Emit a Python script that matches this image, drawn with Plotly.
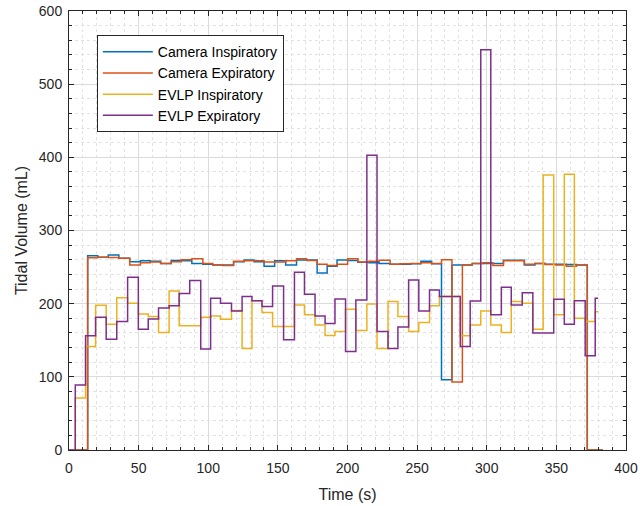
import plotly.graph_objects as go

# ---- Camera data (step start times, s) ----
cam_time = [0, 13.4, 20.6, 28.2, 35.8, 43.6, 51.3, 58.4, 65.8, 73.4, 80.6, 88.2, 96.1,
            103.2, 110.3, 118.2, 125.8, 132.9, 140.1, 147.7, 155.6, 163.4, 170.6, 178.2,
            185.4, 192.5, 200.1, 207.5, 215.4, 222.7, 230.6, 237.7, 245.4, 252.7, 260.4,
            267.5, 275.0, 282.5, 289.6, 297.2, 304.4, 312.0, 319.1, 327.0, 334.6, 342.0,
            349.6, 357.2, 364.4, 372.2]
cam_end = 383.5

cam_insp = [0, 265.5, 263.3, 266.4, 262, 257.4, 258.7, 258, 255, 259, 258.5, 255, 254,
            253, 253, 257.4, 259.6, 257.4, 251, 258.7, 253, 259.6, 259.6, 242, 251,
            259.6, 259, 256.5, 256, 255, 254, 254, 254.5, 258, 254.5, 96, 253, 253,
            255, 255, 255, 259.5, 259.5, 253, 255, 254, 254, 253.5, 253, 0]

cam_exp = [0, 262.8, 263.3, 263, 262, 253, 256, 257, 255, 257.4, 260, 261.5, 255,
           253, 252, 258, 258.7, 258.7, 257, 257, 258.7, 261.5, 259, 254, 252,
           254, 261.5, 257, 258, 259.5, 254, 254.5, 255, 256, 255, 260, 93, 253,
           255, 256, 252, 258.7, 258.7, 254, 255, 253.5, 253, 251, 253, 0]

# ---- EVLP data (step start times, s) ----
evlp_time = [0, 4.5, 11.9, 19.1, 26.7, 34.3, 42.1, 49.8, 56.9, 64.3, 71.9, 79.1, 86.7,
             94.6, 101.7, 108.8, 116.7, 124.3, 131.4, 138.6, 146.2, 154.1, 161.9, 169.1,
             176.7, 183.9, 191.0, 198.6, 206.0, 213.9, 221.2, 229.1, 236.2, 243.9, 251.2,
             258.9, 266.0, 273.5, 281.0, 288.1, 295.7, 302.9, 310.5, 317.6, 325.5, 333.1,
             340.5, 348.1, 355.7, 362.9, 370.7, 377.9]
evlp_end = 380.0

evlp_insp = [0, 71, 141.5, 198, 172, 208, 200.6, 186, 182.4, 160.6, 217.4, 169.7, 169.7,
             181.5, 183.3, 178.8, 190.6, 138.8, 204, 187.9, 168.8, 168.8, 198.3, 184.7,
             171, 156.5, 162, 192.4, 163.3, 199.7, 138.8, 202.8, 182.4, 162, 174.2, 197,
             209.7, 209.7, 156, 171, 190, 171, 160.6, 202.8, 200.6, 165.1, 376, 184.7,
             377, 180, 175.6, 189]

evlp_exp = [0, 89, 156, 181.5, 151.5, 175.6, 236, 165, 179, 194, 197, 214, 231.5,
            138, 207.4, 200.6, 190, 209.7, 204, 196, 224, 150.6, 242.8, 212.8, 183,
            173, 206.5, 134.7, 205, 402.7, 162, 138.8, 168, 232.4, 190, 218.8, 209.7,
            209.7, 141.5, 203.8, 547, 184.7, 222.4, 198.3, 215, 160, 160, 206, 172,
            204, 128.8, 207.4]

series = [
    ("Camera Inspiratory", cam_time, cam_end, cam_insp, "#0072BD"),
    ("Camera Expiratory", cam_time, cam_end, cam_exp, "#D95319"),
    ("EVLP Inspiratory", evlp_time, evlp_end, evlp_insp, "#EDB120"),
    ("EVLP Expiratory", evlp_time, evlp_end, evlp_exp, "#7E2F8E"),
]

fig = go.Figure()
for name, t, tend, v, col in series:
    fig.add_trace(go.Scatter(
        x=list(t) + [tend], y=list(v) + [v[-1]], mode="lines", name=name,
        line=dict(color=col, width=1.5, shape="hv"),
    ))

FONT = "Liberation Sans, Arial, sans-serif"
axis_common = dict(
    showline=True, linecolor="#262626", linewidth=1, mirror="ticks",
    ticks="inside", ticklen=5, tickcolor="#262626",
    showgrid=True, gridcolor="#dcdcdc", gridwidth=1, zeroline=False,
    automargin=False,
    tickfont=dict(family=FONT, size=14, color="#262626"),
)

fig.update_xaxes(
    range=[0, 400], dtick=50, tick0=0, ticklabelstandoff=5,
    minor=dict(dtick=10, ticks="inside", ticklen=3, tickcolor="#262626",
               showgrid=True, gridcolor="#e2e2e2", griddash="dot"),
    title=dict(text="Time (s)", standoff=14,
               font=dict(family=FONT, size=16, color="#262626")),
    **axis_common,
)
fig.update_yaxes(
    range=[0, 600], dtick=100, tick0=0, ticklabelstandoff=3,
    minor=dict(dtick=20, ticks="inside", ticklen=3, tickcolor="#262626",
               showgrid=True, gridcolor="#e2e2e2", griddash="dot"),
    title=dict(text="Tidal Volume (mL)", standoff=7,
               font=dict(family=FONT, size=16, color="#262626")),
    **axis_common,
)

fig.update_layout(
    width=640, height=506,
    margin=dict(l=69, r=14, t=11, b=56),
    paper_bgcolor="white", plot_bgcolor="white",
    showlegend=True,
    legend=dict(
        x=0.05, y=0.945, xanchor="left", yanchor="top",
        bgcolor="white", bordercolor="#262626", borderwidth=1,
        font=dict(family=FONT, size=14, color="#000000"),
        tracegroupgap=0, itemwidth=50,
    ),
)

fig.write_html(
    "out.html",
    config={"displayModeBar": False},
    post_script="document.body.style.margin='0';document.body.style.padding='0';",
)
